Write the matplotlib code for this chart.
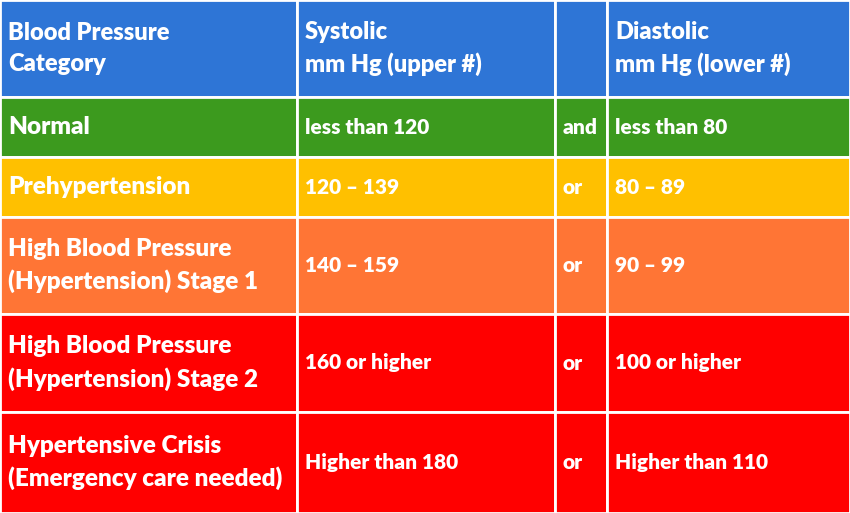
import matplotlib
matplotlib.use("Agg")
import matplotlib.pyplot as plt
from matplotlib.patches import Rectangle

headers = ["Blood Pressure\nCategory", "Systolic\nmm Hg (upper #)", "", "Diastolic\nmm Hg (lower #)"]
categories = ["Normal", "Prehypertension",
              "High Blood Pressure\n(Hypertension) Stage 1",
              "High Blood Pressure\n(Hypertension) Stage 2",
              "Hypertensive Crisis\n(Emergency care needed)"]
systolic = ["less than 120", "120 – 139", "140 – 159", "160 or higher", "Higher than 180"]
joiners = ["and", "or", "or", "or", "or"]
diastolic = ["less than 80", "80 – 89", "90 – 99", "100 or higher", "Higher than 110"]

row_colors = ["#3c9a1e", "#ffc000", "#ff7535", "#ff0000", "#ff0000"]
header_color = "#2e75d6"

col_x = [0, 297, 555, 607, 850]
row_y = [0, 97, 157, 217, 314, 412, 513]

fig = plt.figure(figsize=(8.5, 5.13), dpi=100)
ax = fig.add_axes([0, 0, 1, 1])
ax.set_xlim(0, 850)
ax.set_ylim(513, 0)
ax.axis("off")

font = "Lato"

def cell(r, c, text, color, size):
    x0, x1 = col_x[c], col_x[c + 1]
    y0, y1 = row_y[r], row_y[r + 1]
    ax.add_patch(Rectangle((x0, y0), x1 - x0, y1 - y0, facecolor=color,
                           edgecolor="white", lw=2))
    ax.text(x0 + 8, (y0 + y1) / 2, text, color="white", fontsize=size,
            fontweight="heavy", family=font, va="center", ha="left",
            linespacing=1.5)

for c, h in enumerate(headers):
    cell(0, c, h, header_color, 17)

for i in range(len(categories)):
    col = row_colors[i]
    cell(i + 1, 0, categories[i], col, 17.5)
    cell(i + 1, 1, systolic[i], col, 15)
    cell(i + 1, 2, joiners[i], col, 15)
    cell(i + 1, 3, diastolic[i], col, 15)

fig.savefig("out.png", dpi=100)
